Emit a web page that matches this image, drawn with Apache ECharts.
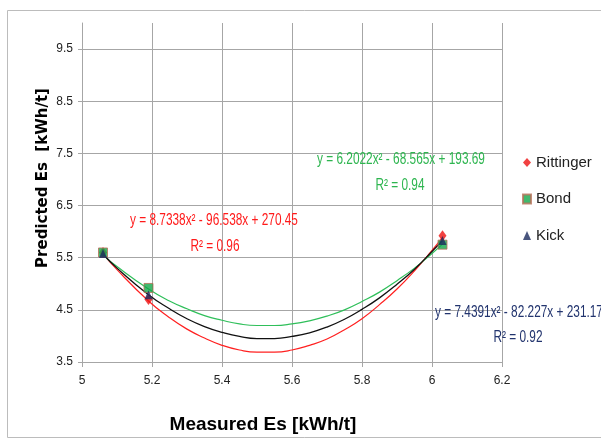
<!DOCTYPE html>
<html><head><meta charset="utf-8">
<script src="https://cdn.jsdelivr.net/npm/echarts@6/dist/echarts.min.js"></script>
<style>html,body{margin:0;padding:0;background:#fff}#c{width:601px;height:441px}</style>
</head><body><div id="c"></div>
<script>
// Measured values (x) and predicted values per model
const measured = [5.06, 5.19, 6.03];
const rittinger = [5.60, 4.70, 5.92];
const bond = [5.60, 4.92, 5.75];
const kick = [5.58, 4.79, 5.83];
// Trend curves
const trendX = [5.06, 5.1, 5.19, 5.25, 5.3, 5.35, 5.4, 5.45, 5.5, 5.55, 5.6, 5.65, 5.7, 5.75, 5.8, 5.85, 5.9, 5.95, 6.0, 6.03];
const trendRittinger = [5.58, 5.27, 4.67, 4.35, 4.13, 3.96, 3.82, 3.73, 3.69, 3.69, 3.73, 3.82, 3.94, 4.12, 4.33, 4.60, 4.90, 5.25, 5.64, 5.89];
const trendBond = [5.55, 5.33, 4.90, 4.67, 4.52, 4.39, 4.30, 4.23, 4.20, 4.20, 4.23, 4.29, 4.38, 4.50, 4.66, 4.84, 5.06, 5.30, 5.58, 5.76];
const trendKick = [5.57, 5.30, 4.79, 4.52, 4.33, 4.18, 4.07, 3.99, 3.95, 3.95, 3.99, 4.06, 4.17, 4.32, 4.51, 4.73, 4.99, 5.28, 5.62, 5.83];
const xTicks = ['5', '5.2', '5.4', '5.6', '5.8', '6', '6.2'];
const yTicks = ['3.5', '4.5', '5.5', '6.5', '7.5', '8.5', '9.5'];
const eqRittinger = ['y = 8.7338x² - 96.538x + 270.45', 'R² = 0.96'];
const eqBond = ['y = 6.2022x² - 68.565x + 193.69', 'R² = 0.94'];
const eqKick = ['y = 7.4391x² - 82.227x + 231.17', 'R² = 0.92'];
const xTitle = 'Measured Es [kWh/t]';
const yTitle = 'Predicted Es  [kWh/t]';

const pairs = (xs, ys) => xs.map((x, i) => [x, ys[i]]);
const FONT = "'Liberation Sans', Arial, sans-serif";
const chart = echarts.init(document.getElementById('c'), null, {renderer: 'canvas'});
const gridCol = '#a6a6a6';
function eqText(text, x, y, color) {
  return {type: 'text', x: x, y: y, scaleX: 0.74, z: 10,
    style: {text: text, fill: color, font: '16px ' + FONT, align: 'center', verticalAlign: 'middle'}};
}
chart.setOption({
  backgroundColor: '#fff',
  animation: false,
  grid: {left: 82, right: 99, top: 23, bottom: 79},
  xAxis: {
    type: 'value', min: 5, max: 6.2, interval: 0.2,
    axisLine: {lineStyle: {color: gridCol}},
    axisTick: {show: true, length: 5, lineStyle: {color: gridCol}},
    axisLabel: {fontFamily: FONT, fontSize: 12, color: '#222', margin: 13,
      formatter: v => { const i = Math.round((v - 5) / 0.2); return xTicks[i] || ''; }},
    splitLine: {show: true, lineStyle: {color: gridCol, width: 1}}
  },
  yAxis: {
    type: 'value', min: 3.5, max: 10, interval: 1,
    axisLine: {show: true, lineStyle: {color: gridCol}},
    axisTick: {show: true, length: 4, lineStyle: {color: gridCol}},
    axisLabel: {fontFamily: FONT, fontSize: 12, color: '#222', margin: 9, showMaxLabel: false,
      formatter: v => { const i = Math.round(v - 3.5); return yTicks[i] || ''; }},
    splitLine: {show: true, lineStyle: {color: [gridCol, gridCol, gridCol, gridCol, gridCol, gridCol, gridCol, 'rgba(0,0,0,0)'], width: 1}}
  },
  legend: {
    orient: 'vertical', left: 517, top: 150, itemGap: 21.5, itemWidth: 8, itemHeight: 9,
    textStyle: {fontFamily: FONT, fontSize: 15, color: '#222'},
    data: ['Rittinger', 'Bond', 'Kick']
  },
  series: [
    {type: 'line', name: 'tr', data: pairs(trendX, trendRittinger), smooth: true, symbol: 'none', lineStyle: {color: '#ff2020', width: 1.2}, z: 2, silent: true},
    {type: 'line', name: 'tb', data: pairs(trendX, trendBond), smooth: true, symbol: 'none', lineStyle: {color: '#2fbf5a', width: 1.2}, z: 2, silent: true},
    {type: 'line', name: 'tk', data: pairs(trendX, trendKick), smooth: true, symbol: 'none', lineStyle: {color: '#111', width: 1.3}, z: 2, silent: true},
    {type: 'scatter', name: 'Rittinger', data: pairs(measured, rittinger), symbol: 'diamond', symbolSize: [8, 11], itemStyle: {color: '#ee1111'}, z: 3},
    {type: 'scatter', name: 'Bond', data: pairs(measured, bond), symbol: 'rect', symbolSize: 9, itemStyle: {color: '#12a84a', borderColor: '#b8705a', borderWidth: 1}, z: 4},
    {type: 'scatter', name: 'Kick', data: pairs(measured, kick), symbol: 'triangle', symbolSize: [8, 9], itemStyle: {color: '#1b2a5e'}, z: 5}
  ],
  graphic: [
    {type: 'rect', shape: {x: 7.5, y: 10.5, width: 610, height: 427}, style: {fill: 'none', stroke: '#bcbcbc', lineWidth: 1}, z: -1},
    eqText(eqRittinger[0], 214, 221, '#ff1a1a'),
    eqText(eqRittinger[1], 215, 247, '#ff1a1a'),
    eqText(eqBond[0], 401, 160, '#2db54f'),
    eqText(eqBond[1], 400, 186, '#2db54f'),
    eqText(eqKick[0], 519, 313, '#22346e'),
    eqText(eqKick[1], 518, 338, '#22346e'),
    {type: 'text', x: 263, y: 425, style: {text: xTitle, fill: '#000', font: 'bold 19px ' + FONT, align: 'center', verticalAlign: 'middle'}},
    {type: 'text', x: 43, y: 178, rotation: Math.PI / 2, style: {text: yTitle, fill: '#000', font: "bold 15px 'DejaVu Sans', sans-serif", align: 'center', verticalAlign: 'middle'}}
  ]
});
</script></body></html>
